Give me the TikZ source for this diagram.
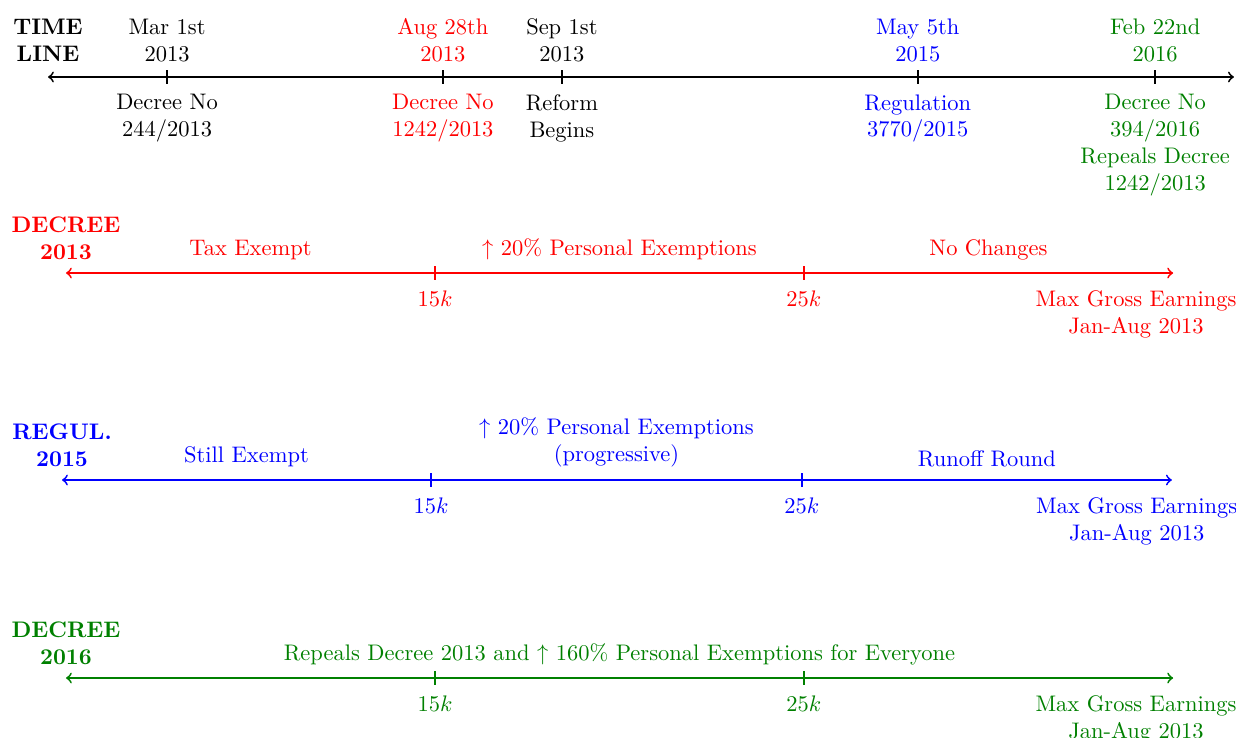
\documentclass[tikz,border=0pt]{standalone}
\usepackage{tikz}
\definecolor{decgreen}{rgb}{0,0.5,0}

\begin{document}
\begin{tikzpicture}[thick,
    datelbl/.style={above,align=center},
    eventlbl/.style={below=1pt,align=center},
    rowlbl/.style={above=2pt,align=center,font=\bfseries},
    seglbl/.style={midway,above=2pt,align=center}]
  \useasboundingbox (0,0) rectangle (19.3125,-11.516);

  % time line
  \coordinate (tl-start) at (0.75,-1.203);
  \coordinate (tl-end) at (19.28,-1.203);
  \draw[<->] (tl-start) -- (tl-end);
  \node[above=3pt,align=center,font=\bfseries] (tl-title) at (tl-start) {TIME\\LINE};
  \foreach \x/\n/\c/\d/\e in {
      2.61/mar/black/{Mar 1st\\2013}/{Decree No\\244/2013},
      6.92/aug/red/{Aug 28th\\2013}/{Decree No\\1242/2013},
      8.78/sep/black/{Sep 1st\\2013}/{Reform\\Begins},
      14.34/may/blue/{May 5th\\2015}/{Regulation\\3770/2015},
      18.05/feb/decgreen/{Feb 22nd\\2016}/{Decree No\\394/2016\\Repeals Decree\\1242/2013}} {
    \coordinate (\n) at (\x,-1.203);
    \draw ([yshift=3pt]\n) -- ([yshift=-3pt]\n);
    \node[datelbl,text=\c] (\n-date) at ([yshift=3pt]\n) {\d};
    \node[eventlbl,text=\c] (\n-event) at ([yshift=-3pt]\n) {\e};
  }

  % decree 2013
  \begin{scope}[red]
    \coordinate (d13-0) at (1.031,-4.266);
    \coordinate (d13-1) at (6.797,-4.266);
    \coordinate (d13-2) at (12.56,-4.266);
    \coordinate (d13-3) at (18.33,-4.266);
    \draw[<->] (d13-0) -- (d13-3);
    \foreach \n in {1,2}
      \draw ([yshift=3pt]d13-\n) -- ([yshift=-3pt]d13-\n);
    \node[rowlbl] (d13-title) at (d13-0) {DECREE\\2013};
    \path (d13-0) -- (d13-1) node[seglbl] (d13-low) {Tax Exempt};
    \path (d13-1) -- (d13-2) node[seglbl] (d13-mid) {$\uparrow$ 20\% Personal Exemptions};
    \path (d13-2) -- (d13-3) node[seglbl] (d13-high) {No Changes};
    \node[eventlbl] (d13-15k) at ([yshift=-3pt]d13-1) {$15k$};
    \node[eventlbl] (d13-25k) at ([yshift=-3pt]d13-2) {$25k$};
    \node[eventlbl,xshift=-0.58cm] (d13-max) at ([yshift=-3pt]d13-3) {Max Gross Earnings\\Jan-Aug 2013};
  \end{scope}

  % regulation 2015
  \begin{scope}[blue]
    \coordinate (r15-0) at (0.969,-7.5);
    \coordinate (r15-1) at (6.734,-7.5);
    \coordinate (r15-2) at (12.53,-7.5);
    \coordinate (r15-3) at (18.31,-7.5);
    \draw[<->] (r15-0) -- (r15-3);
    \foreach \n in {1,2}
      \draw ([yshift=3pt]r15-\n) -- ([yshift=-3pt]r15-\n);
    \node[rowlbl] (r15-title) at (r15-0) {REGUL.\\2015};
    \path (r15-0) -- (r15-1) node[seglbl] (r15-low) {Still Exempt};
    \path (r15-1) -- (r15-2) node[seglbl] (r15-mid) {$\uparrow$ 20\% Personal Exemptions\\(progressive)};
    \path (r15-2) -- (r15-3) node[seglbl] (r15-high) {Runoff Round};
    \node[eventlbl] (r15-15k) at ([yshift=-3pt]r15-1) {$15k$};
    \node[eventlbl] (r15-25k) at ([yshift=-3pt]r15-2) {$25k$};
    \node[eventlbl,xshift=-0.55cm] (r15-max) at ([yshift=-3pt]r15-3) {Max Gross Earnings\\Jan-Aug 2013};
  \end{scope}

  % decree 2016
  \begin{scope}[decgreen]
    \coordinate (d16-0) at (1.031,-10.594);
    \coordinate (d16-1) at (6.797,-10.594);
    \coordinate (d16-2) at (12.56,-10.594);
    \coordinate (d16-3) at (18.33,-10.594);
    \draw[<->] (d16-0) -- (d16-3);
    \foreach \n in {1,2}
      \draw ([yshift=3pt]d16-\n) -- ([yshift=-3pt]d16-\n);
    \node[rowlbl] (d16-title) at (d16-0) {DECREE\\2016};
    \path (d16-0) -- (d16-3) node[seglbl] (d16-all) {Repeals Decree 2013 and $\uparrow$ 160\% Personal Exemptions for Everyone};
    \node[eventlbl] (d16-15k) at ([yshift=-3pt]d16-1) {$15k$};
    \node[eventlbl] (d16-25k) at ([yshift=-3pt]d16-2) {$25k$};
    \node[eventlbl,xshift=-0.58cm] (d16-max) at ([yshift=-3pt]d16-3) {Max Gross Earnings\\Jan-Aug 2013};
  \end{scope}
\end{tikzpicture}
\end{document}
